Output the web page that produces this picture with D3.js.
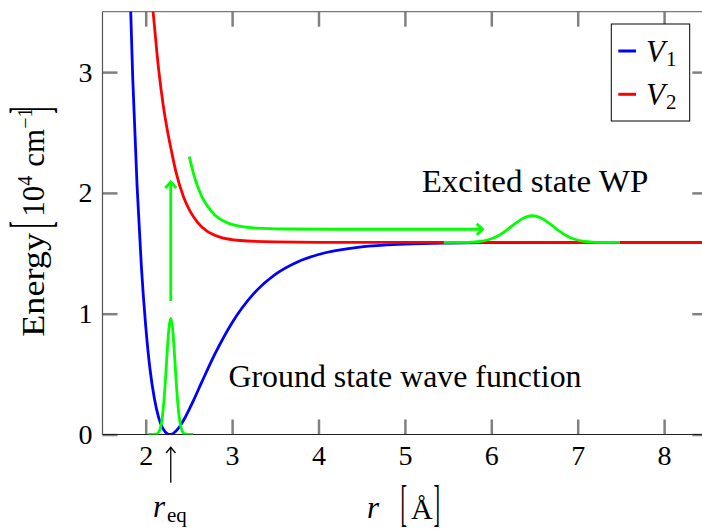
<!DOCTYPE html>
<html>
<head>
<meta charset="utf-8">
<script src="https://d3js.org/d3.v7.min.js"></script>
<style>
  body { margin: 0; background: #fff; }
  svg { display: block; }
  text { font-family: "Liberation Serif", "DejaVu Serif", "Noto Serif", "Times New Roman", Times, serif; }
</style>
</head>
<body>
<div id="container"></div>
<script>
const FONT = '"Liberation Serif", "DejaVu Serif", "Noto Serif", "Times New Roman", Times, serif'

// ticks
const xTicks = [2, 3, 4, 5, 6, 7, 8]
const yTicks = [0, 1, 2, 3]

// V1 : potentiel de l'état fondamental (r en Å, énergie en 10^4 cm-1)
const v1R = [1.80, 1.85, 1.90, 1.95, 2.00, 2.05, 2.10, 2.15, 2.20, 2.25, 2.28, 2.32, 2.38, 2.45, 2.55, 2.65, 2.80, 3.00, 3.25, 3.50, 3.75, 4.00, 4.50, 5.00, 5.50, 6.00, 7.00, 8.50]
const v1E = [4.13, 2.95, 2.06, 1.39, 0.90, 0.54, 0.30, 0.14, 0.048, 0.006, 0, 0.009, 0.052, 0.132, 0.277, 0.435, 0.665, 0.926, 1.166, 1.325, 1.426, 1.490, 1.553, 1.576, 1.585, 1.588, 1.590, 1.590]

// V2 : potentiel de l'état excité
const v2R = [2.06, 2.088, 2.15, 2.204, 2.25, 2.30, 2.35, 2.435, 2.513, 2.60, 2.706, 2.85, 3.09, 3.50, 4.00, 5.00, 8.50]
const v2E = [3.68, 3.48, 3.02, 2.72, 2.52, 2.34, 2.174, 1.972, 1.849, 1.757, 1.685, 1.636, 1.606, 1.594, 1.591, 1.590, 1.590]

// fonction d'onde de l'état fondamental
const gsR = [2.03, 2.13, 2.15, 2.17, 2.19, 2.21, 2.23, 2.25, 2.27, 2.29, 2.31, 2.33, 2.35, 2.37, 2.39, 2.41, 2.43, 2.45, 2.55]
const gsE = [0, 0.006, 0.019, 0.054, 0.13, 0.27, 0.47, 0.70, 0.886, 0.962, 0.886, 0.70, 0.47, 0.27, 0.13, 0.054, 0.019, 0.006, 0]

// paquet d'onde excité
const wpR = [5.45, 5.675, 5.775, 5.875, 5.975, 6.075, 6.175, 6.275, 6.375, 6.475, 6.575, 6.675, 6.775, 6.875, 6.975, 7.075, 7.175, 7.275, 7.49]
const wpE = [1.590, 1.591, 1.593, 1.599, 1.614, 1.644, 1.690, 1.745, 1.792, 1.811, 1.792, 1.745, 1.690, 1.644, 1.614, 1.599, 1.593, 1.591, 1.590]

// trajectoire du paquet (flèche horizontale)
const trajR = [2.505, 2.55, 2.60, 2.65, 2.706, 2.80, 2.90, 2.976, 3.10, 3.28, 3.60, 4.25, 5.90]
const trajE = [2.30, 2.168, 2.055, 1.970, 1.900, 1.818, 1.767, 1.744, 1.722, 1.708, 1.701, 1.699, 1.699]

// excitation verticale
const pumpR = [2.29, 2.29]
const pumpE = [1.105, 2.09]

const rEq = 2.29

const width = 702, height = 532
const plot = { left: 102.5, right: 707.3, top: 11.7, bottom: 434.5 }

const x = d3.scaleLinear().domain([1.5, 8.5]).range([plot.left, plot.right])
const y = d3.scaleLinear().domain([0, 3.5]).range([plot.bottom, plot.top])

function toPoints(rs, es) {
  return rs.map((r, i) => [r, es[i]])
}

const smooth = d3.line().x(d => x(d[0])).y(d => y(d[1])).curve(d3.curveMonotoneX)
const straight = d3.line().x(d => x(d[0])).y(d => y(d[1]))


/**
 * axes : ticks vers l'intérieur sur les quatre côtés
 */
function drawAxes(svg) {
  const style = (g, labels) => {
    g.attr('font-family', FONT).attr('font-size', null)
    g.select('.domain').remove()
    g.selectAll('.tick line').attr('stroke', '#808080').attr('stroke-width', 2.5)
    g.selectAll('.tick text').attr('font-size', 28).attr('fill', '#000').attr('font-family', FONT)
    if (!labels) g.selectAll('.tick text').remove()
  }

  svg.append('g')
    .attr('transform', `translate(0,${plot.bottom})`)
    .call(d3.axisBottom(x).tickValues(xTicks).tickSize(-15).tickPadding(11).tickFormat(d3.format('d')))
    .call(g => style(g, true))
  svg.append('g')
    .attr('transform', `translate(0,${plot.top})`)
    .call(d3.axisTop(x).tickValues(xTicks).tickSize(-15))
    .call(g => style(g, false))
  svg.append('g')
    .attr('transform', `translate(${plot.left},0)`)
    .call(d3.axisLeft(y).tickValues(yTicks).tickSize(-15).tickPadding(10).tickFormat(d3.format('d')))
    .call(g => style(g, true))
  svg.append('g')
    .attr('transform', `translate(${plot.right},0)`)
    .call(d3.axisRight(y).tickValues(yTicks).tickSize(-15))
    .call(g => style(g, false))

  svg.append('line')
    .attr('x1', plot.left).attr('x2', plot.right)
    .attr('y1', plot.top).attr('y2', plot.top)
    .attr('stroke', '#777').attr('stroke-width', 1.2)
  svg.append('line')
    .attr('x1', plot.left).attr('x2', plot.left)
    .attr('y1', plot.top).attr('y2', plot.bottom)
    .attr('stroke', '#555').attr('stroke-width', 1.2)
  svg.append('line')
    .attr('x1', plot.left).attr('x2', plot.right)
    .attr('y1', plot.bottom).attr('y2', plot.bottom)
    .attr('stroke', '#222').attr('stroke-width', 1.2)
}


function drawCurves(svg) {
  const g = svg.append('g').attr('clip-path', 'url(#clip)')

  g.append('path').attr('d', smooth(toPoints(v1R, v1E)))
    .attr('fill', 'none').attr('stroke', '#0000ff').attr('stroke-width', 2.8)
  g.append('path').attr('d', smooth(toPoints(v2R, v2E)))
    .attr('fill', 'none').attr('stroke', '#ff0000').attr('stroke-width', 2.8)
  g.append('path').attr('d', smooth(toPoints(gsR, gsE)))
    .attr('fill', 'none').attr('stroke', '#00ff00').attr('stroke-width', 2.8)
  g.append('path').attr('d', smooth(toPoints(wpR, wpE)))
    .attr('fill', 'none').attr('stroke', '#00ff00').attr('stroke-width', 2.8)

  // flèches vertes
  g.append('path').attr('d', straight(toPoints(pumpR, pumpE)))
    .attr('fill', 'none').attr('stroke', '#00ff00').attr('stroke-width', 2.8)
    .attr('marker-end', 'url(#headGreen)')
  g.append('path').attr('d', smooth(toPoints(trajR, trajE)))
    .attr('fill', 'none').attr('stroke', '#00ff00').attr('stroke-width', 2.8)
    .attr('marker-end', 'url(#headGreen)')
}


function drawMarkers(defs) {
  defs.append('clipPath').attr('id', 'clip')
    .append('rect')
    .attr('x', plot.left).attr('y', plot.top)
    .attr('width', plot.right - plot.left).attr('height', plot.bottom - plot.top)

  defs.append('marker')
    .attr('id', 'headGreen')
    .attr('markerUnits', 'userSpaceOnUse')
    .attr('viewBox', '-10 -10 20 20')
    .attr('markerWidth', 20).attr('markerHeight', 20)
    .attr('orient', 'auto')
    .append('path')
    .attr('d', 'M-6,-5.5L0,0L-6,5.5')
    .attr('fill', 'none').attr('stroke', '#00ff00').attr('stroke-width', 2.8)

  defs.append('marker')
    .attr('id', 'headBlack')
    .attr('markerUnits', 'userSpaceOnUse')
    .attr('viewBox', '-10 -10 20 20')
    .attr('markerWidth', 20).attr('markerHeight', 20)
    .attr('orient', 'auto')
    .append('path')
    .attr('d', 'M-5.7,-4.7L0,0L-5.7,4.7')
    .attr('fill', 'none').attr('stroke', '#000').attr('stroke-width', 1.3)
}


function drawLabels(svg) {
  svg.append('text')
    .attr('x', 228.5).attr('y', 386.5)
    .attr('font-size', 31)
    .attr('textLength', 353).attr('lengthAdjust', 'spacingAndGlyphs')
    .text('Ground state wave function')

  svg.append('text')
    .attr('x', 421.7).attr('y', 192.3)
    .attr('font-size', 31)
    .attr('textLength', 226.6).attr('lengthAdjust', 'spacingAndGlyphs')
    .text('Excited state WP')

  // flèche r_eq sous l'axe
  svg.append('line')
    .attr('x1', x(rEq)).attr('x2', x(rEq))
    .attr('y1', 482.7).attr('y2', 447.3)
    .attr('stroke', '#000').attr('stroke-width', 1.3)
    .attr('marker-end', 'url(#headBlack)')

  const req = svg.append('text').attr('x', 153).attr('y', 516.7).attr('font-size', 31)
  req.append('tspan').attr('font-style', 'italic').text('r')
  req.append('tspan').attr('x', 167).attr('y', 521.5).attr('font-size', 21).text('eq')

  // légende de l'axe x
  svg.append('text').attr('x', 367).attr('y', 517.5)
    .attr('font-size', 31).attr('font-style', 'italic').text('r')
  svg.append('text').attr('x', 400.5).attr('y', 520)
    .attr('font-size', 50).attr('textLength', 6.5).attr('lengthAdjust', 'spacingAndGlyphs').text('[')
  svg.append('text').attr('x', 411).attr('y', 518.5)
    .attr('font-size', 30).text('Å')
  svg.append('text').attr('x', 433.5).attr('y', 520)
    .attr('font-size', 50).attr('textLength', 6.5).attr('lengthAdjust', 'spacingAndGlyphs').text(']')

  // légende de l'axe y
  const yl = svg.append('g').attr('transform', 'translate(43.5,336.7) rotate(-90)')
  yl.append('text').attr('x', 0).attr('y', 0).attr('font-size', 31)
    .attr('textLength', 103.7).attr('lengthAdjust', 'spacingAndGlyphs').text('Energy')
  yl.append('text').attr('x', 108.5).attr('y', 5).attr('font-size', 56)
    .attr('textLength', 7).attr('lengthAdjust', 'spacingAndGlyphs').text('[')
  const ten = yl.append('text').attr('x', 120).attr('y', 0).attr('font-size', 31)
  ten.append('tspan').text('10')
  ten.append('tspan').attr('y', -12).attr('font-size', 20).text('4')
  const cm = yl.append('text').attr('x', 170).attr('y', 0).attr('font-size', 31)
  cm.append('tspan').text('cm')
  cm.append('tspan').attr('y', -12).attr('font-size', 20).text('−1')
  yl.append('text').attr('x', 223).attr('y', 5).attr('font-size', 56)
    .attr('textLength', 7).attr('lengthAdjust', 'spacingAndGlyphs').text(']')
}


function drawLegend(svg) {
  const entries = [
    { name: 'V', sub: '1', color: '#0000ff' },
    { name: 'V', sub: '2', color: '#ff0000' }
  ]
  const box = { x: 611.3, y: 24, w: 78.4, h: 97 }
  const lg = svg.append('g')
  lg.append('rect')
    .attr('x', box.x).attr('y', box.y).attr('width', box.w).attr('height', box.h)
    .attr('fill', '#fff').attr('stroke', '#000').attr('stroke-width', 1)

  entries.forEach((d, i) => {
    const cy = 51 + i * 43.3
    lg.append('line')
      .attr('x1', 618.3).attr('x2', 636).attr('y1', cy).attr('y2', cy)
      .attr('stroke', d.color).attr('stroke-width', 3)
    const t = lg.append('text').attr('x', 646).attr('y', cy + 10.7).attr('font-size', 31)
    t.append('tspan').attr('font-style', 'italic').text(d.name)
    t.append('tspan').attr('x', 666).attr('y', cy + 14.5).attr('font-size', 21).text(d.sub)
  })
}


function displayChart() {
  const svg = d3.select('#container').append('svg')
    .attr('width', width)
    .attr('height', height)
    .attr('font-family', FONT)

  drawMarkers(svg.append('defs'))
  drawAxes(svg)
  drawCurves(svg)
  drawLabels(svg)
  drawLegend(svg)
}

displayChart()
</script>
</body>
</html>
